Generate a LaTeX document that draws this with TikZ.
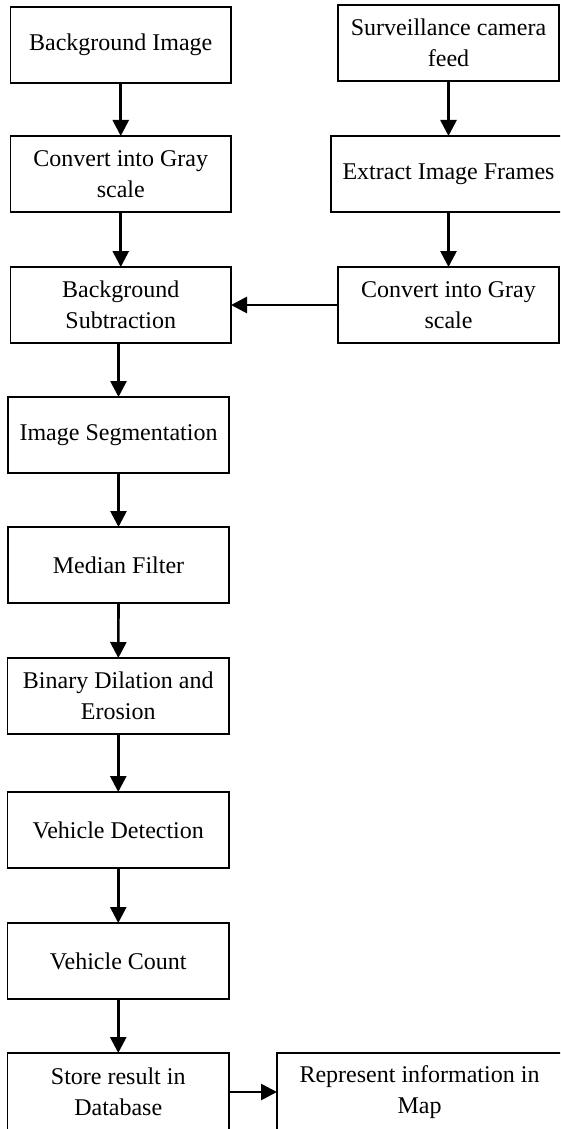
\documentclass[tikz,border=0pt]{standalone}
\usepackage{fontspec}
\setmainfont{Liberation Serif}
\usetikzlibrary{arrows.meta}
\tikzset{
  stage/.style={draw, line width=1.9pt, inner sep=0pt, outer sep=0pt, align=center,
    anchor=north west, font=\fontsize{24}{31}\selectfont},
  flow/.style={line width=2.7pt, -{Triangle[length=16pt,width=16pt]}}
}
% place a box by its top-left corner, width and height (all in px-sized pt)
\newcommand{\stagebox}[6]{\node[stage, minimum width=#4pt, minimum height=#5pt] (#1) at (#2,#3) {#6};}
\begin{document}
\begin{tikzpicture}[x=1pt, y=-1pt]
  \useasboundingbox (0,0) rectangle (560,1129);
  \clip (0,0) rectangle (560,1129);

  % left column
  \stagebox{bg}{10.5}{7}{220.5}{76}{Background Image}
  \stagebox{grayA}{10.5}{136}{220.5}{76}{Convert into Gray\\scale}
  \stagebox{sub}{10.5}{267}{220.5}{76}{Background\\Subtraction}
  \stagebox{seg}{8}{397}{221}{76}{Image Segmentation}
  \stagebox{med}{8}{527}{221}{76}{Median Filter}
  \stagebox{bin}{7.5}{658}{221.5}{76}{Binary Dilation and\\Erosion}
  \stagebox{det}{7.5}{792}{221.5}{76}{Vehicle Detection}
  \stagebox{cnt}{7.5}{923}{221.5}{76}{Vehicle Count}
  \stagebox{store}{7.5}{1053}{221.5}{78}{Store result in\\Database}

  % right column
  \stagebox{cam}{338}{5}{221}{76}{Surveillance camera\\feed}
  \stagebox{frames}{331}{136}{235}{76}{Extract Image Frames}
  \stagebox{grayB}{338}{267}{221}{76}{Convert into Gray\\scale}
  \stagebox{map}{277}{1053}{285}{78}{Represent information in\\Map}

  % connectors
  \draw[flow] (bg) -- (grayA);
  \draw[flow] (grayA) -- (sub);
  \draw[flow] (sub.south -| seg.north) -- (seg.north);
  \draw[flow] (seg) -- (med);
  \draw[flow] (med) -- (bin);
  \draw[flow] (bin) -- (det);
  \draw[flow] (det) -- (cnt);
  \draw[flow] (cnt) -- (store);
  \draw[flow] (cam.south) -- (cam.south |- frames.north);
  \draw[flow] (frames.south -| cam.south) -- (grayB.north -| cam.south);
  \draw[flow] (grayB) -- (sub);
  \draw[flow] (store) -- (map);
\end{tikzpicture}
\end{document}
